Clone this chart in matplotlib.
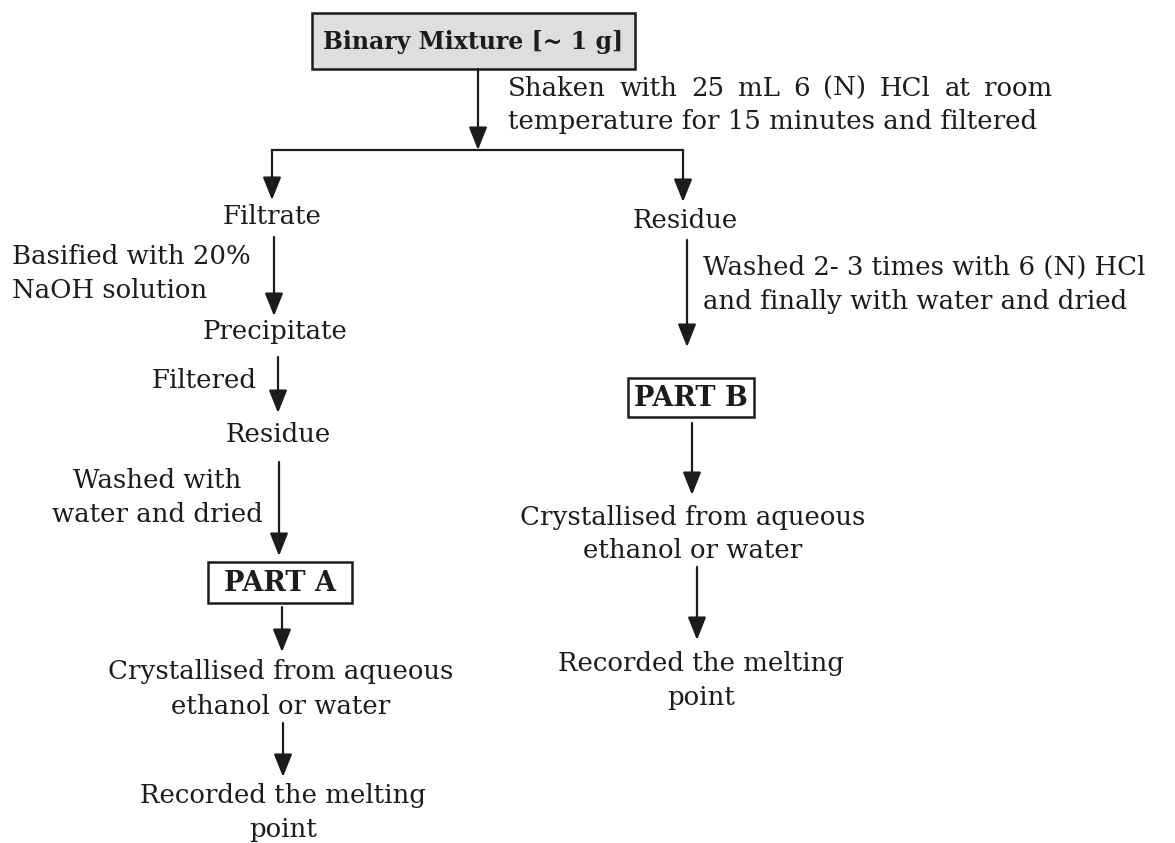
import matplotlib.pyplot as plt
from matplotlib.patches import Rectangle

plt.rcParams['font.family'] = ['DejaVu Serif']

# flowchart content
top_label = 'Binary Mixture [~ 1 g]'
split_note = ['Shaken with 25 mL 6 (N) HCl at room',
              'temperature for 15 minutes and filtered']

left_steps = ['Filtrate', 'Precipitate', 'Residue', 'PART A',
              'Crystallised from aqueous\nethanol or water',
              'Recorded the melting\npoint']
left_notes = ['Basified with 20%\nNaOH solution', 'Filtered',
              'Washed with\nwater and dried', '', '']

right_steps = ['Residue', 'PART B',
               'Crystallised from aqueous\nethanol or water',
               'Recorded the melting\npoint']
right_notes = ['Washed 2- 3 times with 6 (N) HCl\nand finally with water and dried',
               '', '']

# layout (pixel coords, y downwards)
left_pos = [(272, 217), (275, 332), (278, 435), (280, 582), (281, 672), (283, 795)]
left_arrows = [(274, 237, 316), (278, 357, 413), (279, 462, 556),
               (282, 607, 652), (283, 723, 777)]
left_note_pos = [(12, 257, 'left'), (257, 380, 'right'), (157, 480, 'center')]

right_pos = [(685, 220), (691, 397), (693, 517), (701, 663)]
right_arrows = [(687, 240, 347), (692, 423, 495), (697, 567, 640)]
right_note_pos = [(703, 267, 'left')]

ink = '#1c1c1c'
fs = 18.7
line_gap = 34


def put(ax, x, y, label, ha='center', bold=False, size=fs):
    for i, line in enumerate(label.split('\n')):
        ax.text(x, y + i * line_gap, line, ha=ha, va='center', fontsize=size,
                color=ink, fontweight='bold' if bold else 'normal')


def put_justified(ax, x0, x1, y, line):
    # spread words over [x0, x1] like a justified printed line
    renderer = ax.figure.canvas.get_renderer()
    words = line.split()
    texts = [ax.text(0, y, w, ha='left', va='center', fontsize=fs, color=ink)
             for w in words]
    widths = [t.get_window_extent(renderer).width for t in texts]
    gap = (x1 - x0 - sum(widths)) / (len(words) - 1)
    x = x0
    for t, w in zip(texts, widths):
        t.set_x(x)
        x += w + gap


def arrow(ax, x, y0, y1):
    ax.annotate('', xy=(x, y1), xytext=(x, y0),
                arrowprops=dict(arrowstyle='-|>,head_length=0.7,head_width=0.28',
                                mutation_scale=20, lw=1.6, color=ink,
                                shrinkA=0, shrinkB=0))


def boxed(ax, x0, y0, x1, y1, label, face='white', size=19.5):
    ax.add_patch(Rectangle((x0, y0), x1 - x0, y1 - y0, facecolor=face,
                           edgecolor=ink, lw=1.8))
    put(ax, (x0 + x1) / 2, (y0 + y1) / 2 + 1, label, bold=True, size=size)


fig = plt.figure(figsize=(11.75, 8.43), dpi=100)
ax = fig.add_axes([0, 0, 1, 1])
ax.set_xlim(0, 1175)
ax.set_ylim(843, 0)
ax.axis('off')

# top box and split
boxed(ax, 312, 13, 635, 69, top_label, face='#dedede', size=17)
put_justified(ax, 508, 1052, 88, split_note[0])
put(ax, 508, 122, split_note[1], ha='left')
arrow(ax, 478, 69, 150)
ax.plot([272, 683], [150, 150], color=ink, lw=1.6, solid_capstyle='projecting')
arrow(ax, 272, 150, 200)
arrow(ax, 683, 150, 202)

# left branch
for label, (x, y) in zip(left_steps, left_pos):
    if label.startswith('PART'):
        boxed(ax, 208, 562, 352, 603, label)
    else:
        put(ax, x, y, label)
for x, y0, y1 in left_arrows:
    arrow(ax, x, y0, y1)
for note, (x, y, ha) in zip(left_notes, left_note_pos):
    put(ax, x, y, note, ha=ha)

# right branch
for label, (x, y) in zip(right_steps, right_pos):
    if label.startswith('PART'):
        boxed(ax, 628, 378, 754, 417, label)
    else:
        put(ax, x, y, label)
for x, y0, y1 in right_arrows:
    arrow(ax, x, y0, y1)
for note, (x, y, ha) in zip(right_notes, right_note_pos):
    put(ax, x, y, note, ha=ha)

fig.savefig('out.png', dpi=100, facecolor='white')
